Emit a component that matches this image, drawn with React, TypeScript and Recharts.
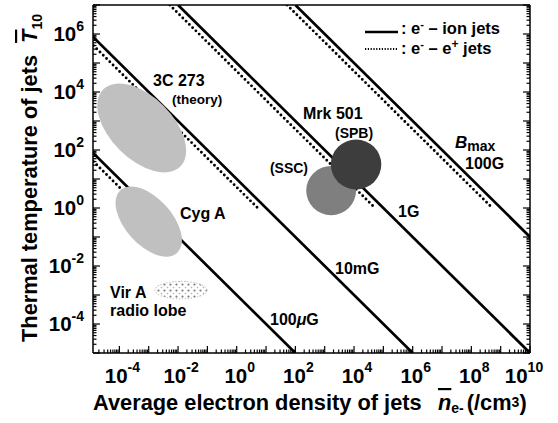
import React from 'react';
import { ComposedChart, Line, Scatter, XAxis, YAxis } from 'recharts';

// ---------- chart geometry ----------
const W = 558;
const H = 423;
const AX = 1; // axis band thickness (must be > 0 for Recharts to draw an axis)
const MARGIN = { top: 5 - AX, right: 28 - AX, bottom: 70 - AX, left: 93 - AX };
const X_MIN = 10 ** -4.9;
const X_MAX = 1e10;
const Y_MIN = 1e-5;
const Y_MAX = 1e7;
const PLOT_W = 437;
const PLOT_H = 348;
const PX_PER_DEC_X = PLOT_W / (Math.log10(X_MAX) - Math.log10(X_MIN));
const PX_PER_DEC_Y = PLOT_H / (Math.log10(Y_MAX) - Math.log10(Y_MIN));

const FONT = '"Liberation Sans", Arial, Helvetica, sans-serif';

// ---------- data ----------
// tick label exponents (10^e)
const xTickLabelExps = [-4, -2, 0, 2, 4, 6, 8, 10];
const yTickLabelExps = [-4, -2, 0, 2, 4, 6];

// e- - ion jets (solid lines), B = 100 uG, 10 mG, 1 G, 100 G
const ion100uG = [{ n: 1e-6, T: 1e3 }, { n: 1e2, T: 1e-5 }];
const ion10mG = [{ n: 1e-6, T: 1e7 }, { n: 1e6, T: 1e-5 }];
const ion1G = [{ n: 1e-2, T: 1e7 }, { n: 1e10, T: 1e-5 }];
const ion100G = [{ n: 1e2, T: 1e7 }, { n: 1e10, T: 1e-1 }];

// e- - e+ jets (dotted lines)
const pair100uG = [{ n: 1e-6, T: 520 }, { n: 5.2e-4, T: 1 }];
const pair10mG = [{ n: 1e-6, T: 5.2e6 }, { n: 5.2, T: 1 }];
const pair1G = [{ n: 5.2e-3, T: 1e7 }, { n: 5.2e4, T: 1 }];
const pair100G = [{ n: 52, T: 1e7 }, { n: 5.2e8, T: 1 }];

// source regions: centre (n, T), semi-axes in decades, tilt in degrees
const sourceRegions = [
  { name: '3C 273', n: 10 ** -3.24, T: 10 ** 2.76, a: 1.87, b: 1.07, angle: 45, fill: '#c0c0c0' },
  { name: 'Cyg A', n: 10 ** -3.0, T: 10 ** -0.47, a: 1.45, b: 0.8, angle: 48, fill: '#c0c0c0' },
  { name: 'Mrk 501 (SSC)', n: 10 ** 3.22, T: 10 ** 0.6, a: 0.85, b: 0.85, angle: 0, fill: '#7f7f7f' },
  { name: 'Mrk 501 (SPB)', n: 10 ** 4.07, T: 10 ** 1.5, a: 0.86, b: 0.86, angle: 0, fill: '#3d3d3d' },
  { name: 'Vir A radio lobe', n: 10 ** -1.9, T: 10 ** -2.83, a: 0.89, b: 0.3, angle: 0, fill: 'pattern' },
];

// ---------- ticks ----------
const buildTicks = (lo: number, hi: number) => {
  const out: number[] = [];
  for (let d = Math.floor(Math.log10(lo)); d <= Math.ceil(Math.log10(hi)); d++) {
    for (let m = 1; m <= 9; m++) {
      const v = m * 10 ** d;
      if (v >= lo * 0.9999 && v <= hi * 1.0001) out.push(v);
    }
  }
  return out;
};
const xTicks = buildTicks(X_MIN, X_MAX);
const yTicks = buildTicks(Y_MIN, Y_MAX);

const tickInfo = (v: number) => {
  const l = Math.log10(v);
  const e = Math.round(l);
  return { e, major: Math.abs(l - e) < 1e-6 };
};

const MAJ = 7;
const MIN = 3.5;
const TICK_FS = 20.5;
const EXP_FS = 14;

const BottomTick = (p: any) => {
  const { x, y, payload } = p;
  const { e, major } = tickInfo(payload.value);
  const shift = e === 10 ? -6 : 3;
  return (
    <g>
      <line x1={x} x2={x} y1={y} y2={y - (major ? MAJ : MIN)} stroke="#000" strokeWidth={1.2} />
      {major && xTickLabelExps.includes(e) && (
        <text x={x + shift} y={y + 30} textAnchor="middle" fontFamily={FONT} fontWeight="bold" fontSize={TICK_FS} fill="#000">
          10<tspan dy={-11} fontSize={EXP_FS}>{e}</tspan>
        </text>
      )}
    </g>
  );
};
const TopTick = (p: any) => {
  const { x, y, payload } = p;
  const { major } = tickInfo(payload.value);
  return <line x1={x} x2={x} y1={y} y2={y + (major ? MAJ : MIN)} stroke="#000" strokeWidth={1.2} />;
};
const LeftTick = (p: any) => {
  const { x, y, payload } = p;
  const { e, major } = tickInfo(payload.value);
  return (
    <g>
      <line x1={x} x2={x + (major ? MAJ : MIN)} y1={y} y2={y} stroke="#000" strokeWidth={1.2} />
      {major && yTickLabelExps.includes(e) && (
        <text x={x - 9} y={y + 7} textAnchor="end" fontFamily={FONT} fontWeight="bold" fontSize={TICK_FS} fill="#000">
          10<tspan dy={-10} fontSize={EXP_FS}>{e}</tspan>
        </text>
      )}
    </g>
  );
};
const RightTick = (p: any) => {
  const { x, y, payload } = p;
  const { major } = tickInfo(payload.value);
  return <line x1={x} x2={x - (major ? MAJ : MIN)} y1={y} y2={y} stroke="#000" strokeWidth={1.2} />;
};

// ---------- region shape ----------
const RegionShape = (p: any) => {
  const { cx, cy, payload } = p;
  if (cx == null || cy == null) return null;
  const avg = (PX_PER_DEC_X + PX_PER_DEC_Y) / 2;
  const rx = payload.angle ? payload.a * avg : payload.a * PX_PER_DEC_X;
  const ry = payload.angle ? payload.b * avg : payload.b * PX_PER_DEC_Y;
  if (payload.fill === 'pattern') {
    return (
      <g>
        <defs>
          <pattern id="virDots" x={cx} y={cy - 1} width={6} height={6} patternUnits="userSpaceOnUse">
            <circle cx={1.5} cy={1.5} r={1.1} fill="#777" />
            <circle cx={4.5} cy={4.5} r={0.8} fill="#aaa" />
          </pattern>
        </defs>
        <ellipse cx={cx} cy={cy} rx={rx} ry={ry} fill="url(#virDots)" stroke="#aaa" strokeWidth={1} strokeDasharray="1 2" />
      </g>
    );
  }
  return (
    <ellipse
      cx={cx}
      cy={cy}
      rx={rx}
      ry={ry}
      fill={payload.fill}
      transform={`rotate(${payload.angle} ${cx} ${cy})`}
    />
  );
};

const solid = { stroke: '#000', strokeWidth: 2.7, dot: false, isAnimationActive: false, type: 'linear' as const, activeDot: false };
const dotted = { ...solid, strokeWidth: 2.9, strokeDasharray: '0 4.6', strokeLinecap: 'round' as const };

const T = (props: any) => <text fontFamily={FONT} fontWeight="bold" fill="#000" {...props} />;

const axisLine = { stroke: '#000', strokeWidth: 1.5 };

export default function App() {
  return (
    <div style={{ position: 'absolute', left: 0, top: 0, width: W, height: H, background: '#fff' }}>
      <ComposedChart width={W} height={H} margin={MARGIN}>
        <XAxis
          dataKey="n"
          type="number"
          scale="log"
          domain={[X_MIN, X_MAX]}
          allowDataOverflow
          ticks={xTicks}
          interval={0}
          tickSize={0}
          tickMargin={0}
          tickLine={false}
          tick={BottomTick}
          height={AX}
          axisLine={axisLine}
        />
        <XAxis
          xAxisId="top"
          orientation="top"
          type="number"
          scale="log"
          domain={[X_MIN, X_MAX]}
          allowDataOverflow
          ticks={xTicks}
          interval={0}
          tickSize={0}
          tickMargin={0}
          tickLine={false}
          tick={TopTick}
          height={AX}
          axisLine={axisLine}
        />
        <YAxis
          dataKey="T"
          type="number"
          scale="log"
          domain={[Y_MIN, Y_MAX]}
          allowDataOverflow
          ticks={yTicks}
          interval={0}
          tickSize={0}
          tickMargin={0}
          tickLine={false}
          tick={LeftTick}
          width={AX}
          axisLine={axisLine}
        />
        <YAxis
          yAxisId="right"
          orientation="right"
          type="number"
          scale="log"
          domain={[Y_MIN, Y_MAX]}
          allowDataOverflow
          ticks={yTicks}
          interval={0}
          tickSize={0}
          tickMargin={0}
          tickLine={false}
          tick={RightTick}
          width={AX}
          axisLine={axisLine}
        />
        <Scatter data={sourceRegions} dataKey="T" shape={RegionShape} isAnimationActive={false} />
        <Line data={pair100uG} dataKey="T" {...dotted} />
        <Line data={pair10mG} dataKey="T" {...dotted} />
        <Line data={pair1G} dataKey="T" {...dotted} />
        <Line data={pair100G} dataKey="T" {...dotted} />
        <Line data={ion100uG} dataKey="T" {...solid} />
        <Line data={ion10mG} dataKey="T" {...solid} />
        <Line data={ion1G} dataKey="T" {...solid} />
        <Line data={ion100G} dataKey="T" {...solid} />
      </ComposedChart>

      <svg width={W} height={H} style={{ position: 'absolute', left: 0, top: 0, pointerEvents: 'none' }}>
        {/* axis titles */}
        <T x={93} y={410} fontSize={21.8}>Average electron density of jets</T>
        <T x={438} y={410} fontSize={21.8}>
          <tspan fontStyle="italic" textDecoration="overline">n</tspan>
          <tspan fontSize={14} dy={3}>e-</tspan>
          <tspan dy={-3} dx={3}>(/cm</tspan>
          <tspan fontSize={14} dy={-3}>3</tspan>
          <tspan dy={3}>)</tspan>
        </T>
        <T transform="rotate(-90)" x={-342} y={37} fontSize={21.8}>
          Thermal temperature of jets
          <tspan dx={12} fontStyle="italic" textDecoration="overline">T</tspan>
          <tspan fontSize={14} dy={5}>10</tspan>
        </T>

        {/* legend */}
        <line x1={365} x2={398} y1={32} y2={32} stroke="#000" strokeWidth={2.6} />
        <T x={401} y={34} fontSize={16.5}>
          : e<tspan dy={-6} fontSize={11}>-</tspan><tspan dy={6}> – ion jets</tspan>
        </T>
        <line x1={365} x2={398} y1={49} y2={49} stroke="#000" strokeWidth={2} strokeDasharray="1.2 1.6" />
        <T x={401} y={54} fontSize={16.5}>
          : e<tspan dy={-6} fontSize={11}>-</tspan><tspan dy={6}> – e</tspan><tspan dy={-6} fontSize={12}>+</tspan><tspan dy={6}> jets</tspan>
        </T>

        {/* annotations */}
        <T x={153} y={86} fontSize={16}>3C 273</T>
        <T x={172} y={104} fontSize={13.5}>(theory)</T>
        <T x={303} y={119} fontSize={16}>Mrk 501</T>
        <T x={335} y={138} fontSize={14}>(SPB)</T>
        <T x={308} y={173} fontSize={14} textAnchor="end">(SSC)</T>
        <T x={455} y={148} fontSize={17}>
          <tspan fontStyle="italic">B</tspan>
          <tspan fontSize={14} dy={3}>max</tspan>
        </T>
        <T x={465} y={169} fontSize={16}>100G</T>
        <T x={398} y={217} fontSize={16}>1G</T>
        <T x={335} y={274} fontSize={16}>10mG</T>
        <T x={270} y={325} fontSize={16}>
          100<tspan fontStyle="italic">μ</tspan>G
        </T>
        <T x={180} y={219} fontSize={16}>Cyg A</T>
        <T x={110} y={298} fontSize={16}>Vir A</T>
        <T x={110} y={316} fontSize={16}>radio lobe</T>
      </svg>
    </div>
  );
}
